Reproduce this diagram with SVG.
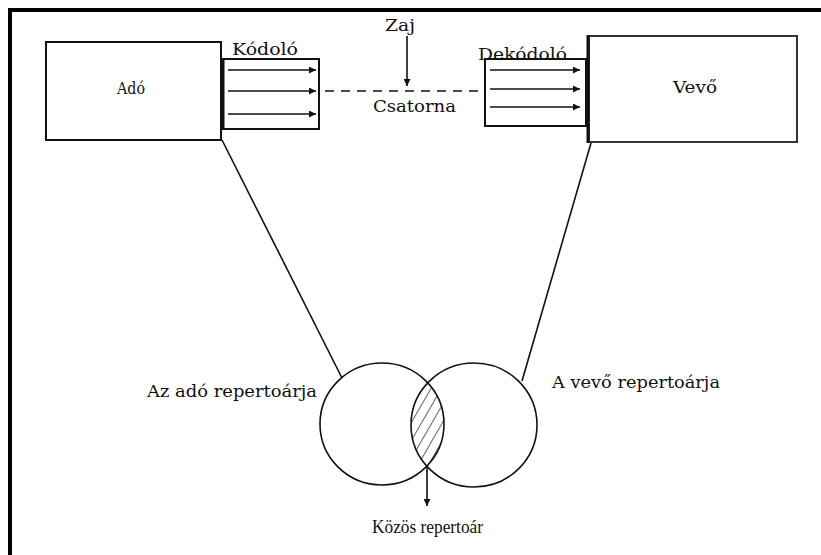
<svg xmlns="http://www.w3.org/2000/svg" width="821" height="555" viewBox="0 0 821 555">
  <style>
    .box { fill: #fff; stroke: #111; stroke-width: 2; }
    .ln { fill: none; stroke: #111; stroke-width: 1.6; }
    .lbl { font-family: "DejaVu Serif", "Liberation Serif", serif; font-size: 16px; fill: #111; }
    .lbl2 { font-family: "Liberation Serif", "DejaVu Serif", serif; font-size: 19px; fill: #111; }
  </style>
  <defs>
    <marker id="arr" viewBox="0 0 8 8" refX="8" refY="4" markerWidth="7" markerHeight="7" markerUnits="userSpaceOnUse" orient="auto">
      <path d="M0,0 L8,4 L0,8 z" fill="#111"/>
    </marker>
    <pattern id="hatch" patternUnits="userSpaceOnUse" width="9" height="9" patternTransform="rotate(30)">
      <line x1="0" y1="0" x2="0" y2="9" stroke="#111" stroke-width="1.3"/>
    </pattern>
    <clipPath id="leftDisk">
      <ellipse cx="382" cy="424" rx="62" ry="61"/>
    </clipPath>
  </defs>

  <!-- page frame (top and left rules) -->
  <rect x="8" y="8" width="813" height="4" fill="#000"/>
  <rect x="8" y="8" width="4" height="547" fill="#000"/>

  <!-- connectors -->
  <g id="connectors">
    <line class="ln" x1="222" y1="140" x2="342" y2="378"/>
    <line class="ln" x1="591" y1="143" x2="522" y2="381"/>
    <line class="ln" x1="325" y1="91" x2="485" y2="91" stroke-dasharray="9 7"/>
    <line class="ln" x1="407" y1="36" x2="407" y2="86" marker-end="url(#arr)"/>
    <line class="ln" x1="427" y1="465" x2="427" y2="506" marker-end="url(#arr)"/>
  </g>

  <g id="ado">
    <rect class="box" x="46" y="42" width="175" height="98"/>
    <text class="lbl" x="117" y="94" textLength="28" lengthAdjust="spacingAndGlyphs">Adó</text>
  </g>

  <g id="kodolo">
    <rect class="box" x="223" y="59" width="96" height="70"/>
    <line x1="223" y1="59" x2="223" y2="129" stroke="#111" stroke-width="3"/>
    <line class="ln" x1="228" y1="70" x2="316" y2="70" marker-end="url(#arr)"/>
    <line class="ln" x1="228" y1="91" x2="316" y2="91" marker-end="url(#arr)"/>
    <line class="ln" x1="228" y1="114" x2="316" y2="114" marker-end="url(#arr)"/>
    <text class="lbl" x="232" y="55" textLength="66" lengthAdjust="spacingAndGlyphs">Kódoló</text>
  </g>

  <g id="zaj">
    <text class="lbl" x="385" y="31" textLength="30" lengthAdjust="spacingAndGlyphs">Zaj</text>
  </g>

  <g id="csatorna">
    <text class="lbl" x="373" y="112" textLength="83" lengthAdjust="spacingAndGlyphs">Csatorna</text>
  </g>

  <g id="vevo">
    <rect x="589" y="36" width="208" height="106" fill="#fff" stroke="#333" stroke-width="2"/>
    <line x1="588" y1="35" x2="588" y2="143" stroke="#111" stroke-width="3"/>
    <text class="lbl" x="673" y="93" textLength="44" lengthAdjust="spacingAndGlyphs">Vevő</text>
  </g>

  <g id="dekodolo">
    <rect class="box" x="485" y="59" width="101" height="67"/>
    <line class="ln" x1="490" y1="70" x2="580" y2="70" marker-end="url(#arr)"/>
    <line class="ln" x1="490" y1="89" x2="580" y2="89" marker-end="url(#arr)"/>
    <line class="ln" x1="490" y1="107" x2="580" y2="107" marker-end="url(#arr)"/>
    <text class="lbl" x="478" y="60" textLength="89" lengthAdjust="spacingAndGlyphs">Dekódoló</text>
  </g>

  <g id="ado-repertoar">
    <ellipse cx="382" cy="424" rx="62" ry="61" fill="none" stroke="#111" stroke-width="1.6"/>
    <text class="lbl" x="147" y="397" textLength="170" lengthAdjust="spacingAndGlyphs">Az adó repertoárja</text>
  </g>

  <g id="vevo-repertoar">
    <ellipse cx="474" cy="425" rx="63" ry="62" fill="none" stroke="#111" stroke-width="1.6"/>
    <text class="lbl" x="552" y="388" textLength="168" lengthAdjust="spacingAndGlyphs">A vevő repertoárja</text>
  </g>

  <g id="kozos-repertoar">
    <ellipse cx="474" cy="425" rx="63" ry="62" fill="url(#hatch)" clip-path="url(#leftDisk)"/>
    <text class="lbl2" x="372" y="533" textLength="111" lengthAdjust="spacingAndGlyphs">Közös repertoár</text>
  </g>
</svg>
